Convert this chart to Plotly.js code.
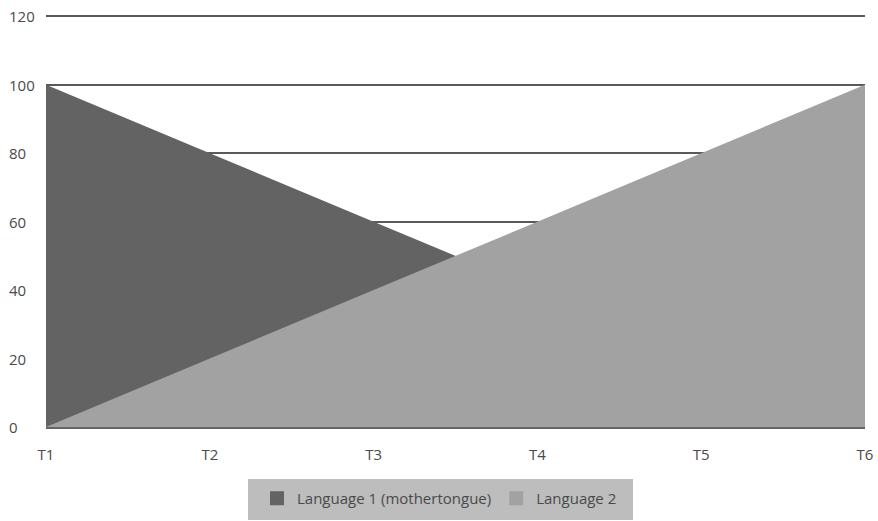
<!DOCTYPE html>
<html><head><meta charset="utf-8">
<script src="https://cdn.plot.ly/plotly-3.0.1.min.js"></script>
<style>html,body{margin:0;padding:0;background:#fff}#chart{width:878px;height:521px}</style>
</head><body><div id="chart"></div>
<script>
var categories = ['T1','T2','T3','T4','T5','T6'];
var language1 = [100, 80, 60, 40, 20, 0];
var language2 = [0, 20, 40, 60, 80, 100];
var yTicks = [0, 20, 40, 60, 80, 100, 120];
var seriesNames = ['Language 1 (mothertongue)', 'Language 2'];
var seriesColors = ['#636363', '#a2a2a2'];

var traces = [
  {x: categories, y: language1, name: seriesNames[0], type: 'scatter', mode: 'none',
   fill: 'tozeroy', fillcolor: seriesColors[0], showlegend: false},
  {x: categories, y: language2, name: seriesNames[1], type: 'scatter', mode: 'none',
   fill: 'tozeroy', fillcolor: seriesColors[1], showlegend: false},
  {x: [null], y: [null], name: seriesNames[0], type: 'scatter', mode: 'markers',
   marker: {symbol: 'square', size: 14, color: seriesColors[0]}},
  {x: [null], y: [null], name: seriesNames[1], type: 'scatter', mode: 'markers',
   marker: {symbol: 'square', size: 14, color: seriesColors[1]}}
];

var font = {family:'Open Sans, sans-serif', size:15, color:'#4a4a4a'};
var annotations = yTicks.map(function(v){
  return {xref:'paper', yref:'y', x:-39/819, y:v, xanchor:'left', yanchor:'middle',
          text:String(v), showarrow:false, font:font};
});

var layout = {
  width: 878, height: 521,
  margin: {l:46, r:13, t:15, b:94},
  paper_bgcolor: '#fff', plot_bgcolor: '#fff',
  showlegend: true,
  xaxis: {type:'category', range:[0,5], showgrid:false, zeroline:false, automargin:false,
          showline:true, linecolor:'#666', linewidth:2,
          ticks:'outside', ticklen:13, tickcolor:'rgba(0,0,0,0)', tickfont:font},
  yaxis: {range:[0,120.4], tickvals:yTicks, showticklabels:false, showgrid:true, automargin:false,
          gridcolor:'#5a5a5a', gridwidth:2, zeroline:false, showline:false, fixedrange:true},
  legend: {orientation:'h', yref:'container', x:(257-46)/819, y:1-482/521, xanchor:'left', yanchor:'top',
           bgcolor:'rgba(0,0,0,0)', font:font, itemwidth:30, traceorder:'normal'},
  shapes: [{type:'rect', xref:'paper', yref:'paper', x0:(248-46)/819, x1:(633-46)/819,
            y0:-(520-427)/412, y1:-(479-427)/412, fillcolor:'#bdbdbd', line:{width:0}, layer:'below'}],
  annotations: annotations
};

Plotly.newPlot('chart', traces, layout, {displayModeBar:false, staticPlot:true});
</script></body></html>
